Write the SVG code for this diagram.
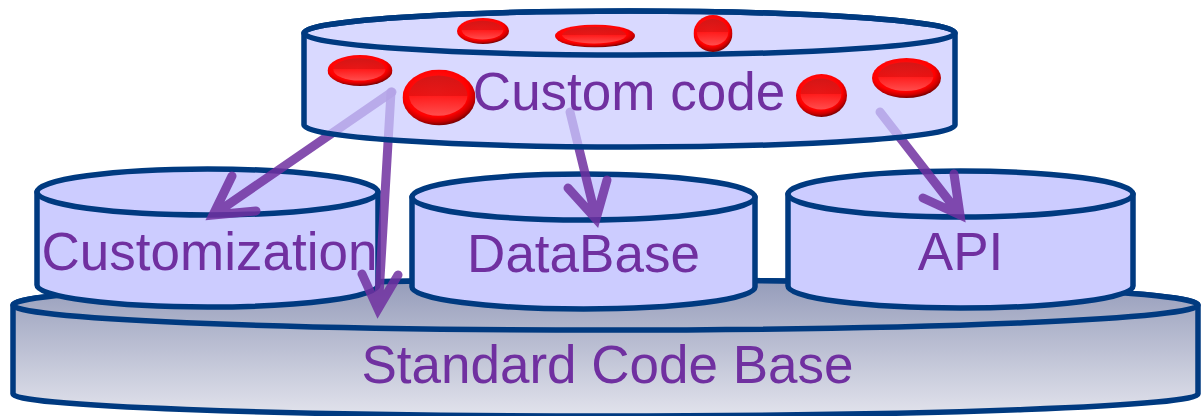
<svg xmlns="http://www.w3.org/2000/svg" width="1201" height="416" viewBox="0 0 1201 416">
  <style>
    .cyl { fill: #ccccff; stroke: #003a80; stroke-width: 5.5; stroke-linejoin: round; }
    .top { fill-opacity: 0.74; }
    .label { font-family: "Liberation Sans", Arial, sans-serif; font-size: 53px; fill: #7030a0; text-anchor: middle; }
    .arrow { fill: none; stroke: #7030a0; stroke-opacity: 0.85; stroke-width: 9; stroke-linecap: round; stroke-linejoin: miter; stroke-miterlimit: 6; }
  </style>
  <defs>
    <linearGradient id="baseFill" gradientUnits="userSpaceOnUse" x1="0" y1="280" x2="0" y2="418">
      <stop offset="0" stop-color="#959cba"/>
      <stop offset="1" stop-color="#e3e4ed"/>
    </linearGradient>
    <radialGradient id="blobRim" cx="0.46" cy="0.4" r="0.62">
      <stop offset="0" stop-color="#ff2222"/>
      <stop offset="0.72" stop-color="#ff0000"/>
      <stop offset="0.86" stop-color="#c80000"/>
      <stop offset="1" stop-color="#600000"/>
    </radialGradient>
    <linearGradient id="blobFace" x1="0" y1="0" x2="0" y2="1">
      <stop offset="0" stop-color="#cc1818"/>
      <stop offset="0.5" stop-color="#e61414"/>
      <stop offset="0.5" stop-color="#ff1c1c"/>
      <stop offset="1" stop-color="#ff5a5a"/>
    </linearGradient>
    <!-- a shaded red bead, drawn in a unit box and stretched by <use> -->
    <symbol id="blob" viewBox="-1 -1 2 2" preserveAspectRatio="none">
      <ellipse cx="0" cy="0" rx="1" ry="1" fill="url(#blobRim)"/>
      <ellipse cx="-0.02" cy="-0.07" rx="0.8" ry="0.72" fill="url(#blobFace)" opacity="0.85"/>
    </symbol>
  </defs>

  <!-- Standard Code Base -->
  <g id="standard-code-base">
    <path class="cyl" style="fill:url(#baseFill)" d="M13,305 L13,394 A592.5,22 0 0 0 1198,394 L1198,305 A592.5,25 0 0 0 13,305 Z"/>
    <ellipse class="cyl" style="fill:url(#baseFill)" cx="605.5" cy="305" rx="592.5" ry="25"/>
    <text class="label" x="607.5" y="383">Standard Code Base</text>
  </g>

  <!-- Customization -->
  <g id="customization">
    <path class="cyl" d="M37,192 L37,285 A170.5,22 0 0 0 378,285 L378,192 Z"/>
    <ellipse class="cyl" cx="207.5" cy="192" rx="170.5" ry="23"/>
    <text class="label" x="209.5" y="270">Customization</text>
  </g>

  <!-- DataBase -->
  <g id="database">
    <path class="cyl" d="M412,197 L412,287 A171.5,22 0 0 0 755,287 L755,197 Z"/>
    <ellipse class="cyl" cx="583.5" cy="197" rx="171.5" ry="23"/>
    <text class="label" x="583.5" y="272">DataBase</text>
  </g>

  <!-- API -->
  <g id="api">
    <path class="cyl" d="M788,194 L788,286 A172.5,22 0 0 0 1133,286 L1133,194 Z"/>
    <ellipse class="cyl" cx="960.5" cy="194" rx="172.5" ry="23"/>
    <text class="label" x="960.5" y="270">API</text>
  </g>

  <!-- dependencies from the custom code layer; shaft and open head in one path -->
  <g id="connectors">
    <path class="arrow" d="M392,92 L216,213 M232,176 L213,215 L256,211"/>
    <path class="arrow" d="M391,92 L378.5,304 M362,274 L378,309 L398,275"/>
    <path class="arrow" d="M570,112 L595,214 M568,188 L596,219 L607,180"/>
    <path class="arrow" d="M880,112 L957,211 M923,198 L960,215 L954,174"/>
  </g>

  <!-- Custom code -->
  <g id="custom-code">
    <path class="cyl top" d="M304,33 L304,125 A325.5,22 0 0 0 955,125 L955,33 A325.5,22 0 0 0 304,33 Z"/>
    <ellipse class="cyl" style="fill:none" cx="629.5" cy="33" rx="325.5" ry="22"/>
    <use href="#blob" x="457" y="18" width="52" height="26"/>
    <use href="#blob" x="555" y="24.5" width="80" height="23"/>
    <use href="#blob" x="693.5" y="15" width="39" height="37"/>
    <use href="#blob" x="327.5" y="55" width="65" height="31"/>
    <use href="#blob" x="402.5" y="69.5" width="73" height="56"/>
    <use href="#blob" x="796" y="74" width="51" height="43"/>
    <use href="#blob" x="872" y="58" width="69" height="40"/>
    <text class="label" x="629" y="110">Custom code</text>
  </g>
</svg>
